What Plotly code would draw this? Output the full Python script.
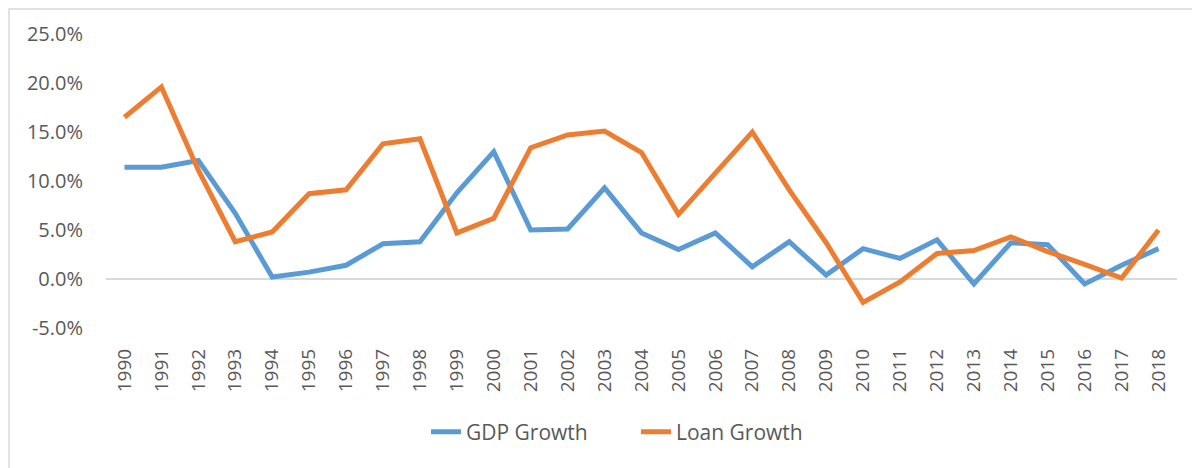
import plotly.graph_objects as go

years = [str(y) for y in range(1990, 2019)]

gdp_growth = [11.4, 11.4, 12.1, 6.7, 0.2, 0.7, 1.4, 3.6, 3.8, 8.8,
              13.0, 5.0, 5.1, 9.3, 4.7, 3.0, 4.7, 1.25, 3.8, 0.4,
              3.1, 2.1, 4.0, -0.5, 3.7, 3.5, -0.5, 1.4, 3.1]

loan_growth = [16.5, 19.6, 11.1, 3.8, 4.8, 8.7, 9.1, 13.8, 14.3, 4.7,
               6.2, 13.4, 14.7, 15.1, 12.9, 6.6, 10.8, 15.0, 9.1, 3.7,
               -2.4, -0.3, 2.6, 2.9, 4.3, 2.8, 1.5, 0.1, 5.0]

y_ticks = [-5, 0, 5, 10, 15, 20, 25]
y_labels = [f"{v:.1f}%" for v in y_ticks]

# the page body adds an 8px offset, so the figure is 8px smaller
W, H = 1192, 460
ml, mr, mt, mb = 98, 23, 26, 140
pw, ph = W - ml - mr, H - mt - mb

font = "Open Sans"
grey = "#595959"

fig = go.Figure()
fig.add_trace(go.Scatter(x=years, y=gdp_growth, name="GDP Growth", mode="lines",
                         line=dict(color="#5B9BD5", width=5)))
fig.add_trace(go.Scatter(x=years, y=loan_growth, name="Loan Growth", mode="lines",
                         line=dict(color="#ED7D31", width=5)))

fig.update_layout(
    width=W, height=H,
    margin=dict(l=ml, r=mr, t=mt, b=mb),
    plot_bgcolor="white", paper_bgcolor="white",
    font=dict(family=font, color=grey, size=19),
    showlegend=True,
    legend=dict(orientation="h", x=(636 - 8 - ml) / pw, xanchor="center",
                y=-(432 - 8 - mt - ph) / ph, yanchor="middle",
                font=dict(size=21, color=grey), entrywidth=165,
                bgcolor="rgba(0,0,0,0)"),
    xaxis=dict(type="category", range=[-0.5, 28.5], showgrid=False, showline=False,
               zeroline=False, ticks="", tickangle=-90, ticklabelstandoff=16,
               tickfont=dict(size=19, color=grey)),
    yaxis=dict(range=[-5, 25], tickvals=y_ticks, ticktext=y_labels, showgrid=False,
               zeroline=True, zerolinecolor="#d9d9d9", zerolinewidth=1.5,
               showline=False, ticks="", ticklabelstandoff=22,
               tickfont=dict(size=20, color=grey)),
    shapes=[dict(type="rect", xref="paper", yref="paper",
                 x0=(1 - ml) / pw, x1=(W + 10 - ml) / pw,
                 y0=-(H + 10 - mt - ph) / ph, y1=1 + (mt - 1) / ph,
                 line=dict(color="#d9d9d9", width=1.5), layer="below")],
)

fig.write_html("out.html")
